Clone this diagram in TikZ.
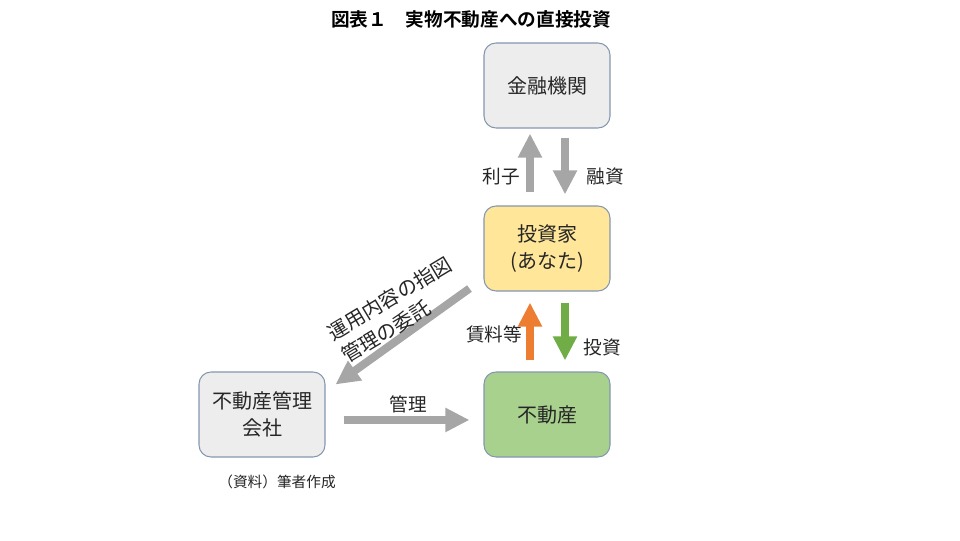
\documentclass[tikz,border=0pt]{standalone}
\usepackage{fontspec}
\setmainfont{Noto Sans CJK JP}[BoldFont={Noto Sans CJK JP Bold}]
\usetikzlibrary{arrows.meta}
\definecolor{boxline}{HTML}{8497B0}
\definecolor{grayfill}{HTML}{EDEDED}
\definecolor{invfill}{HTML}{FFE699}
\definecolor{propfill}{HTML}{A9D18E}
\definecolor{arrowgray}{HTML}{A6A6A6}
\definecolor{rentorange}{HTML}{ED7D31}
\definecolor{investgreen}{HTML}{70AD47}
\begin{document}
\begin{tikzpicture}[x=0.75pt,y=0.75pt,
box/.style = {draw=boxline, line width=0.8pt, rounded corners=9pt,
        minimum width=94.5pt, minimum height=63.75pt, align=center,
        font=\fontsize{15}{20}\selectfont, text=black!85},
flow/.style = {line width=6pt, -{Triangle[width=17pt,length=18pt]}},
lbl/.style = {font=\fontsize{14}{17}\selectfont, text=black!85}]

        \useasboundingbox (0,0) rectangle (960,540);
        \node[font=\bfseries\fontsize{14}{17}\selectfont] (title) at (471,521) {図表１　実物不動産への直接投資};

        \node[box,fill=grayfill] (fin) at (547,454.5) {金融機関};
        \node[box,fill=invfill] (inv) at (547,291.5) {投資家\\(あなた)};
        \node[box,fill=propfill] (prop) at (547,125.5) {不動産};
        \node[box,fill=grayfill] (mgr) at (262,125.5) {不動産管理\\会社};

        \draw[flow,arrowgray,shorten <=9.75pt,shorten >=3.75pt] ([xshift=-12.75pt]inv.north) -- ([xshift=-12.75pt]fin.south);
        \draw[flow,arrowgray,shorten <=6.75pt,shorten >=8.25pt] ([xshift=13.5pt]fin.south) -- ([xshift=13.5pt]inv.north);
        \draw[flow,rentorange,shorten <=8.25pt,shorten >=8.25pt] ([xshift=-12.75pt]prop.north) -- ([xshift=-12.75pt]inv.south);
        \draw[flow,investgreen,shorten <=8.25pt,shorten >=8.25pt] ([xshift=13.5pt]inv.south) -- ([xshift=13.5pt]prop.north);
        \draw[flow,arrowgray,shorten <=13.5pt,shorten >=10.5pt] ([yshift=-4.1pt]mgr.east) -- ([yshift=-4.1pt]prop.west);
        \draw[flow,arrowgray] ([shift={(-14,3)}]inv.south west) -- ([shift={(10,-13)}]mgr.north east);

        \node[lbl] (lriko) at (501,364) {利子};
        \node[lbl] (lyushi) at (605,364) {融資};
        \node[lbl] (lchin) at (494,206) {賃料等};
        \node[lbl] (ltoshi) at (602,193) {投資};
        \node[lbl] (lkanri) at (408,136) {管理};
        \node[lbl,rotate=31,align=left,font=\fontsize{15}{20}\selectfont] (lshizu) at (396.5,230) {運用内容の指図\\管理の委託};
        \node[font=\fontsize{11}{13}\selectfont,text=black!85] (src) at (277,58) {（資料）筆者作成};

    \end{tikzpicture}
\end{document}
